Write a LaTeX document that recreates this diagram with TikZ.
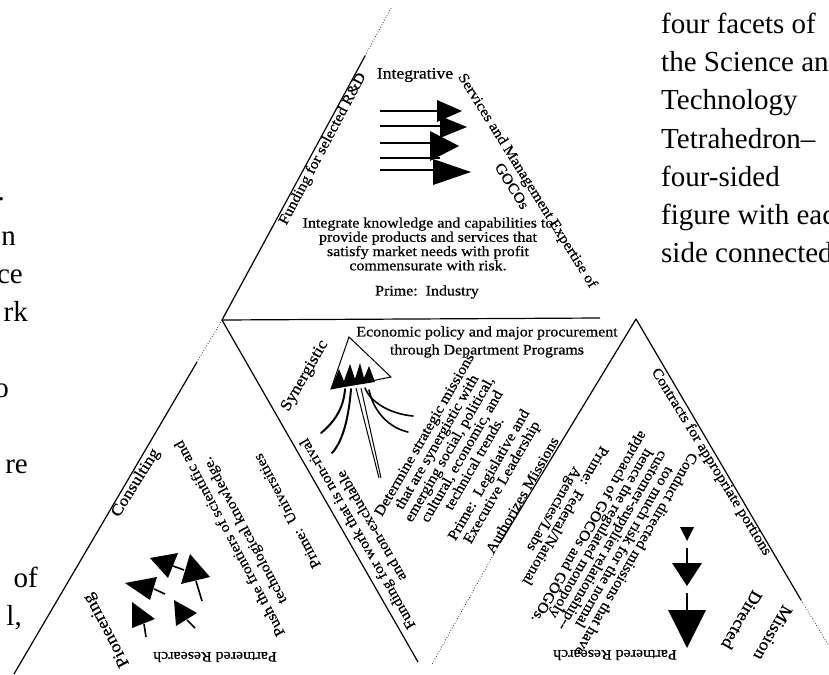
\documentclass[tikz,border=0pt]{standalone}
\usepackage{fontspec}
\setmainfont{Liberation Serif}
\newfontfamily\dgm[FakeStretch=1.1, FakeBold=0.6]{Liberation Serif}
\begin{document}
\begin{tikzpicture}[x=1pt,y=-1pt,
  txt/.style={font=\dgm\fontsize{14.5}{12}\selectfont, inner sep=0pt, align=center},
  lbl/.style={font=\dgm\fontsize{16}{16}\selectfont, inner sep=0pt},
  pagetxt/.style={font=\fontsize{29}{38}\selectfont, inner sep=0pt, anchor=base west},
  pagecut/.style={font=\fontsize{29}{38}\selectfont, inner sep=0pt, anchor=base east},
  edgeln/.style={line width=1.2pt},
  dotln/.style={line width=0.7pt, dotted},
  shaft/.style={line width=1.6pt},
  root/.style={line width=2pt, line cap=round}]
\useasboundingbox (0,0) rectangle (829,674);
% ---- frame of the net ----
\coordinate (A) at (222,320);
\coordinate (Top) at (391,8);
\coordinate (Tsol) at (365,56);
\coordinate (Ldot) at (197,362);
\coordinate (LL) at (14,674);
\coordinate (Hend) at (600,318);
\coordinate (C) at (418,662);
\coordinate (B) at (636,319);
\coordinate (Bl) at (500,543);
\coordinate (Bld) at (432,664);
\coordinate (Br) at (801,600);
\coordinate (Brd) at (829,646);
\draw[edgeln] (A) -- (Hend);
\draw[edgeln] (A) -- (Tsol);
\draw[dotln] (Tsol) -- (Top);
\draw[dotln] (A) -- (Ldot);
\draw[edgeln] (Ldot) -- (LL);
\draw[edgeln] (A) -- (C);
\draw[edgeln] (B) -- (Bl);
\draw[dotln] (Bl) -- (Bld);
\draw[edgeln] (B) -- (Br);
\draw[dotln] (Br) -- (Brd);
% ---- page text (right) ----
\node[pagetxt] (p1) at (661,34) {four facets of};
\node[pagetxt] (p2) at (661,72) {the Science and};
\node[pagetxt] (p3) at (661,110) {Technology};
\node[pagetxt] (p4) at (661,148) {Tetrahedron--};
\node[pagetxt] (p5) at (661,186) {four-sided};
\node[pagetxt] (p6) at (661,224) {figure with each};
\node[pagetxt] (p7) at (661,262) {side connected};
% ---- page text (left, cut) ----
\node[pagecut] (q1) at (5,200) {.};
\node[pagecut] (q2) at (16,245) {n};
\node[pagecut] (q3) at (23,283) {ce};
\node[pagecut] (q4) at (28,321) {rk};
\node[pagecut] (q5) at (9,397) {o};
\node[pagecut] (q6) at (28,473) {re};
\node[pagecut] (q7) at (38,587) {of};
\node[pagecut] (q8) at (22,625) {l,};
% ---- top triangle ----
\node[lbl] (integ) at (415,75) {Integrative};
\node[txt, rotate=-58] (serv) at (527,181) {Services and Management Expertise of};
\node[txt, rotate=-58] (gocos) at (512,186) {GOCOs};
\node[txt, rotate=62] (fundrd) at (323,149) {Funding for selected R\&D};
\node[txt, font=\dgm\fontsize{14.5}{11.5}\selectfont] (integtxt) at (428,244)
  {Integrate knowledge and capabilities to\\provide products and services that\\satisfy market needs with profit\\commensurate with risk.};
\node[txt] (prind) at (427,292) {Prime:~~Industry};
\foreach \yy in {111,126,143,158,170} \draw[shaft] (380,\yy) -- (440,\yy);
\fill (437,100) -- (462,111) -- (437,122) -- cycle;
\fill (440,116) -- (467,127) -- (440,138) -- cycle;
\fill (430,131) -- (459,146) -- (430,161) -- cycle;
\fill (433,159) -- (471,172) -- (433,185) -- cycle;
% ---- centre triangle ----
\node[txt, font=\dgm\fontsize{14.5}{18}\selectfont] (econ) at (487,342)
  {Economic policy and major procurement\\through Department Programs};
\node[lbl, rotate=60] (syn) at (305,376) {Synergistic};
\node[txt, font=\dgm\fontsize{14.5}{16}\selectfont, rotate=120] (fundwork) at (364,530)
  {Funding for work that is non-rival\\and non-excludable};
\node[txt, font=\dgm\fontsize{14.5}{14.4}\selectfont, rotate=60] (determ) at (449,449)
  {Determine strategic missions\\that are synergistic with\\emerging social, political,\\cultural, economic, and\\technical trends.};
\node[txt, font=\dgm\fontsize{14.5}{15}\selectfont, rotate=60] (prleg) at (496,479)
  {Prime:~~Legislative and\\Executive Leadership};
\node[txt, rotate=60] (auth) at (522,495) {Authorizes Missions};
\draw[line width=1pt] (349,337) -- (331,389) -- (391,377) -- cycle;
\fill (331,389) -- (339,369) -- (344,381) -- (350,364) -- (355,379) -- (360,363)
  -- (364,378) -- (369,366) -- (375,382) -- cycle;
\draw[root] (345,389) .. controls (344,405) and (337,420) .. (321,433);
\draw[root] (351,389) .. controls (349,414) and (344,440) .. (332,453);
\draw[line width=1pt] (356,388) -- (379,478);
\draw[line width=1pt] (361,388) -- (381,478);
\draw[root, line width=1.6pt] (365,388) .. controls (371,403) and (391,414) .. (413,416);
\draw[root, line width=1.6pt] (369,390) .. controls (374,413) and (390,428) .. (408,432);
% ---- left triangle ----
\node[lbl, rotate=58] (cons) at (136,483) {Consulting};
\node[lbl, font=\dgm\fontsize{17}{17}\selectfont, rotate=118] (pion) at (107,630) {Pioneering};
\node[txt, rotate=180] (partL) at (215,657) {Partnered Research};
\node[txt, font=\dgm\fontsize{14.5}{17}\selectfont, rotate=118] (push) at (238,534)
  {Push the frontiers of scientific and\\technological knowledge.};
\node[txt, rotate=118] (prun) at (287,511) {Prime:~~Universities};
\fill (150,558) -- (178,553) -- (168,578) -- cycle;
\draw[shaft] (173,566) -- (184,570);
\fill (190,554) -- (210,577) -- (181,584) -- cycle;
\draw[shaft] (196,581) -- (202,601);
\fill (125,583) -- (157,577) -- (150,600) -- cycle;
\draw[shaft] (154,589) -- (165,594);
\fill (132,602) -- (155,619) -- (132,628) -- cycle;
\draw[shaft] (144,624) -- (146,637);
\fill (174,600) -- (197,613) -- (176,626) -- cycle;
\draw[shaft] (187,620) -- (195,628);
% ---- right triangle ----
\node[txt, rotate=-58.5] (contr) at (711,462) {Contracts for appropriate portions};
\node[txt, font=\dgm\fontsize{14.5}{13}\selectfont, rotate=240] (prfed) at (559,512)
  {Prime:~~Federal/National\\Agencies/Labs};
\node[txt, font=\dgm\fontsize{14.5}{13.5}\selectfont, rotate=240] (cond) at (612,540)
  {Conduct directed missions that have\\too much risk for the normal\\customer-supplier relationship--\\hence the regulated monopoly\\approach of GOCOs and GOGOs.};
\node[lbl, font=\dgm\fontsize{17}{17}\selectfont, rotate=240] (miss) at (773,633) {Mission};
\node[lbl, font=\dgm\fontsize{17}{17}\selectfont, rotate=240] (dirc) at (742,620) {Directed};
\node[txt, rotate=180] (partR) at (615,655) {Partnered Research};
\fill (680,527) -- (694,527) -- (687,541) -- cycle;
\draw[line width=1.2pt] (687,548) -- (687,563);
\fill (672,563) -- (702,563) -- (687,586) -- cycle;
\draw[line width=1.2pt] (687,593) -- (687,610);
\fill (668,610) -- (706,610) -- (687,648) -- cycle;
\end{tikzpicture}
\end{document}
